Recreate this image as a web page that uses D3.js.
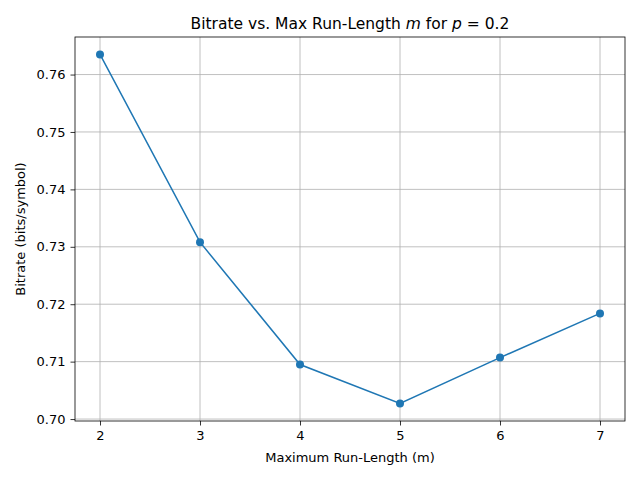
<!DOCTYPE html>
<html>
<head>
<script src="https://d3js.org/d3.v7.min.js"></script>
<style>body{margin:0;background:#fff}text{font-family:"DejaVu Sans",sans-serif}</style>
</head>
<body>
<svg id="c" width="640" height="480"></svg>
<script>
var runLengths = [2, 3, 4, 5, 6, 7];
var bitrates = [0.7635, 0.7308, 0.7095, 0.7027, 0.7107, 0.7184];
var yTicks = [0.70, 0.71, 0.72, 0.73, 0.74, 0.75, 0.76];

var L = 75, R = 625, T = 37, B = 421;
var svg = d3.select("#c");
var x = d3.scaleLinear().domain([1.75, 7.25]).range([L, R]);
var y = d3.scaleLinear().domain([0.69966, 0.76654]).range([B, T]);

// grid
svg.append("g").selectAll("line").data(runLengths).join("line")
  .attr("x1", d => x(d)).attr("x2", d => x(d)).attr("y1", T).attr("y2", B)
  .attr("stroke", "#b0b0b0").attr("stroke-width", 0.8);
svg.append("g").selectAll("line").data(yTicks).join("line")
  .attr("x1", L).attr("x2", R).attr("y1", d => y(d)).attr("y2", d => y(d))
  .attr("stroke", "#b0b0b0").attr("stroke-width", 0.8);

var xa = svg.append("g").attr("transform", "translate(0," + B + ")")
  .call(d3.axisBottom(x).tickValues(runLengths).tickSize(4.5).tickPadding(5).tickFormat(d3.format("d")));
var ya = svg.append("g").attr("transform", "translate(" + L + ",0)")
  .call(d3.axisLeft(y).tickValues(yTicks).tickSize(4.5).tickPadding(5).tickFormat(d3.format(".2f")));
[xa, ya].forEach(a => {
  a.select(".domain").remove();
  a.selectAll("text").attr("font-size", 13).attr("fill", "#000").style("font-family", "DejaVu Sans");
  a.selectAll("line").attr("stroke", "#000").attr("stroke-width", 0.8);
});
svg.append("rect").attr("x", L).attr("y", T).attr("width", R - L).attr("height", B - T)
  .attr("fill", "none").attr("stroke", "#000").attr("stroke-width", 0.8);

var line = d3.line().x((d, i) => x(runLengths[i])).y(d => y(d));
svg.append("path").datum(bitrates).attr("d", line).attr("fill", "none")
  .attr("stroke", "#1f77b4").attr("stroke-width", 1.5);
svg.append("g").selectAll("circle").data(bitrates).join("circle")
  .attr("cx", (d, i) => x(runLengths[i])).attr("cy", d => y(d)).attr("r", 4).attr("fill", "#1f77b4");

var t = svg.append("text").attr("x", (L + R) / 2).attr("y", T - 8).attr("text-anchor", "middle").attr("font-size", 15.5);
t.append("tspan").text("Bitrate vs. Max Run-Length ");
t.append("tspan").attr("font-style", "italic").text("m");
t.append("tspan").text(" for ");
t.append("tspan").attr("font-style", "italic").text("p");
t.append("tspan").text(" = 0.2");

svg.append("text").attr("x", (L + R) / 2).attr("y", 462).attr("text-anchor", "middle").attr("font-size", 13)
  .text("Maximum Run-Length (m)");
svg.append("text").attr("transform", "translate(25," + (T + B) / 2 + ") rotate(-90)")
  .attr("text-anchor", "middle").attr("font-size", 13).text("Bitrate (bits/symbol)");
</script>
</body>
</html>
